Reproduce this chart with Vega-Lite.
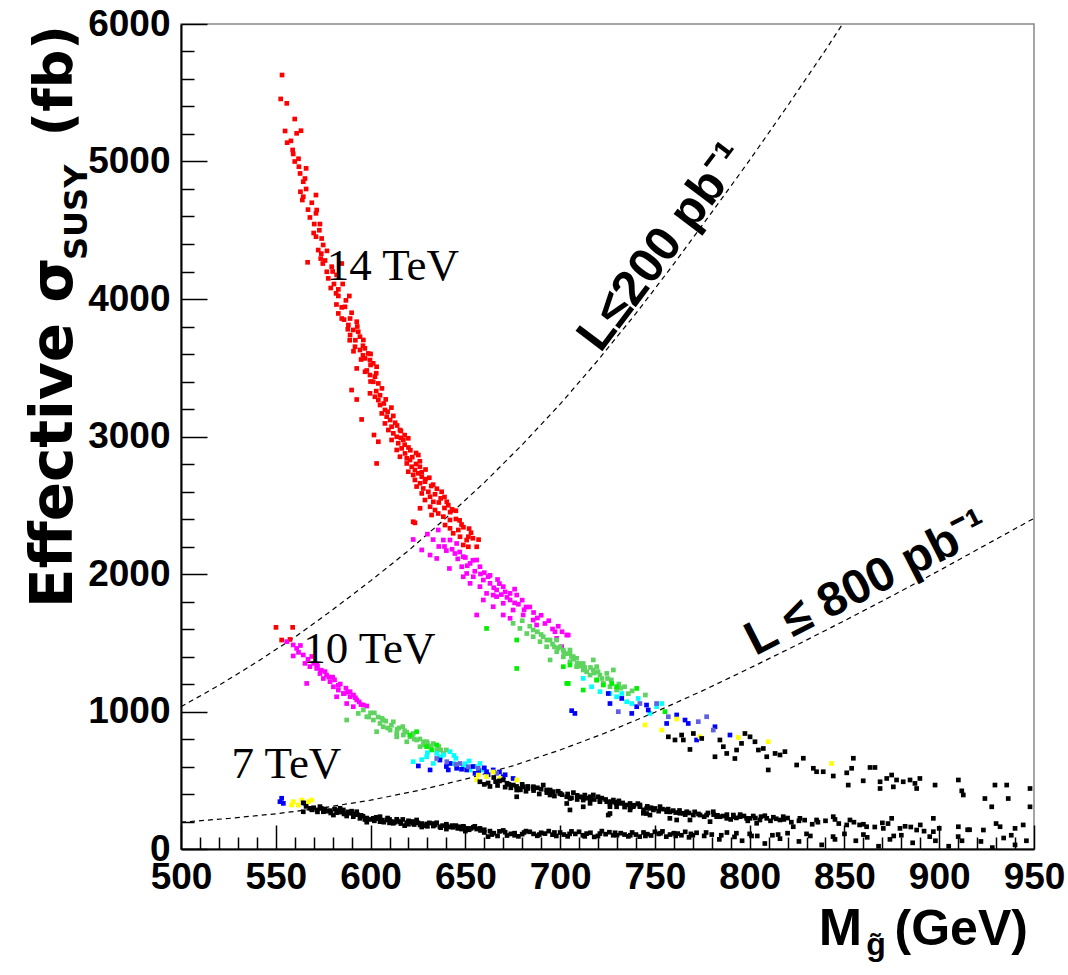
{
"$schema": "https://vega.github.io/schema/vega-lite/v6.json",
"width": 853, "height": 825,
"autosize": {"type": "none"},
"padding": {"left": 181, "top": 24, "right": 34, "bottom": 126},
"background": "white",
"config": {"view": {"stroke": "#888888", "strokeWidth": 1.5}},
"resolve": {"axis": {"x": "independent", "y": "independent"}},
"datasets": {
"curves": [
{"L":"200","x":500,"y":1035},{"L":"200","x":520,"y":1190},{"L":"200","x":540,"y":1360},{"L":"200","x":560,"y":1540},{"L":"200","x":580,"y":1740},{"L":"200","x":600,"y":1950},{"L":"200","x":620,"y":2170},{"L":"200","x":640,"y":2410},{"L":"200","x":660,"y":2665},{"L":"200","x":680,"y":2940},{"L":"200","x":700,"y":3235},{"L":"200","x":720,"y":3555},{"L":"200","x":740,"y":3895},{"L":"200","x":760,"y":4255},{"L":"200","x":780,"y":4630},{"L":"200","x":800,"y":5010},{"L":"200","x":820,"y":5405},{"L":"200","x":840,"y":5810},{"L":"200","x":849,"y":6000},
{"L":"800","x":500,"y":195},{"L":"800","x":525,"y":222},{"L":"800","x":550,"y":256},{"L":"800","x":575,"y":300},{"L":"800","x":600,"y":355},{"L":"800","x":625,"y":425},{"L":"800","x":650,"y":508},{"L":"800","x":675,"y":605},{"L":"800","x":700,"y":720},{"L":"800","x":725,"y":850},{"L":"800","x":750,"y":995},{"L":"800","x":775,"y":1150},{"L":"800","x":800,"y":1315},{"L":"800","x":825,"y":1485},{"L":"800","x":850,"y":1660},{"L":"800","x":875,"y":1840},{"L":"800","x":900,"y":2025},{"L":"800","x":925,"y":2215},{"L":"800","x":950,"y":2405}
],
"pts": [
{"x":553.3,"y":5629,"g":"r"},{"x":552.6,"y":5455,"g":"r"},{"x":555.8,"y":5423,"g":"r"},{"x":560,"y":5309,"g":"r"},{"x":554.9,"y":5222,"g":"r"},{"x":561,"y":5205,"g":"r"},{"x":563.3,"y":5224,"g":"r"},{"x":556,"y":5137,"g":"r"},{"x":558.9,"y":5084,"g":"r"},{"x":559.2,"y":5055,"g":"r"},{"x":562.2,"y":4962,"g":"r"},{"x":562.8,"y":4913,"g":"r"},{"x":565.4,"y":4876,"g":"r"},{"x":564.5,"y":4853,"g":"r"},{"x":571.2,"y":4756,"g":"r"},{"x":564.5,"y":4744,"g":"r"},{"x":564,"y":4720,"g":"r"},{"x":571.6,"y":4647,"g":"r"},{"x":571.2,"y":4623,"g":"r"},{"x":568,"y":4593,"g":"r"},{"x":570.3,"y":4545,"g":"r"},{"x":573.3,"y":4545,"g":"r"},{"x":571.2,"y":4453,"g":"r"},{"x":574.2,"y":4440,"g":"r"},{"x":572.4,"y":4356,"g":"r"},{"x":575,"y":4393,"g":"r"},{"x":566.8,"y":4267,"g":"r"},{"x":573.7,"y":4294,"g":"r"},{"x":574.8,"y":4258,"g":"r"},{"x":576.9,"y":4198,"g":"r"},{"x":579.5,"y":4235,"g":"r"},{"x":584.8,"y":4258,"g":"r"},{"x":577.7,"y":4150,"g":"r"},{"x":582.1,"y":4175,"g":"r"},{"x":580.7,"y":4109,"g":"r"},{"x":585.3,"y":4109,"g":"r"},{"x":581.8,"y":4041,"g":"r"},{"x":583,"y":4022,"g":"r"},{"x":588.8,"y":4022,"g":"r"},{"x":584.8,"y":3939,"g":"r"},{"x":586.5,"y":3943,"g":"r"},{"x":583,"y":3895,"g":"r"},{"x":584.8,"y":3858,"g":"r"},{"x":589.2,"y":3858,"g":"r"},{"x":592.7,"y":3835,"g":"r"},{"x":588.3,"y":3811,"g":"r"},{"x":590.9,"y":3775,"g":"r"},{"x":593.5,"y":3762,"g":"r"},{"x":589.2,"y":3738,"g":"r"},{"x":594.4,"y":3726,"g":"r"},{"x":596.2,"y":3702,"g":"r"},{"x":591.8,"y":3653,"g":"r"},{"x":594.4,"y":3629,"g":"r"},{"x":597,"y":3641,"g":"r"},{"x":598.8,"y":3604,"g":"r"},{"x":597.1,"y":3568,"g":"r"},{"x":599.7,"y":3556,"g":"r"},{"x":601.4,"y":3532,"g":"r"},{"x":603.2,"y":3507,"g":"r"},{"x":592.7,"y":3495,"g":"r"},{"x":597.1,"y":3471,"g":"r"},{"x":599.7,"y":3447,"g":"r"},{"x":602.3,"y":3435,"g":"r"},{"x":601.4,"y":3398,"g":"r"},{"x":604.1,"y":3386,"g":"r"},{"x":590,"y":3338,"g":"r"},{"x":592.7,"y":3269,"g":"r"},{"x":595.3,"y":3124,"g":"r"},{"x":599.7,"y":3314,"g":"r"},{"x":602.3,"y":3289,"g":"r"},{"x":604.1,"y":3265,"g":"r"},{"x":605,"y":3229,"g":"r"},{"x":607.6,"y":3193,"g":"r"},{"x":605.9,"y":3168,"g":"r"},{"x":608.5,"y":3144,"g":"r"},{"x":610.3,"y":3120,"g":"r"},{"x":607.6,"y":3095,"g":"r"},{"x":611.1,"y":3071,"g":"r"},{"x":609.4,"y":3047,"g":"r"},{"x":601.8,"y":3011,"g":"r"},{"x":604.1,"y":2962,"g":"r"},{"x":603.2,"y":2804,"g":"r"},{"x":612,"y":3023,"g":"r"},{"x":613.8,"y":2998,"g":"r"},{"x":615.5,"y":3047,"g":"r"},{"x":611.1,"y":2975,"g":"r"},{"x":614.6,"y":2951,"g":"r"},{"x":617.3,"y":2975,"g":"r"},{"x":619.9,"y":2987,"g":"r"},{"x":613.8,"y":2902,"g":"r"},{"x":616.4,"y":2914,"g":"r"},{"x":618.2,"y":2877,"g":"r"},{"x":615.5,"y":2853,"g":"r"},{"x":619.1,"y":2841,"g":"r"},{"x":620.8,"y":2829,"g":"r"},{"x":625.2,"y":2865,"g":"r"},{"x":619.1,"y":2804,"g":"r"},{"x":621.7,"y":2780,"g":"r"},{"x":623.4,"y":2756,"g":"r"},{"x":619.9,"y":2744,"g":"r"},{"x":622.5,"y":2720,"g":"r"},{"x":625.2,"y":2732,"g":"r"},{"x":627,"y":2707,"g":"r"},{"x":623.4,"y":2684,"g":"r"},{"x":626.1,"y":2660,"g":"r"},{"x":628.7,"y":2671,"g":"r"},{"x":624.3,"y":2636,"g":"r"},{"x":627.8,"y":2622,"g":"r"},{"x":630.5,"y":2598,"g":"r"},{"x":627,"y":2586,"g":"r"},{"x":631.4,"y":2562,"g":"r"},{"x":628.7,"y":2538,"g":"r"},{"x":633.1,"y":2525,"g":"r"},{"x":637.5,"y":2598,"g":"r"},{"x":640.2,"y":2525,"g":"r"},{"x":631.4,"y":2489,"g":"r"},{"x":634,"y":2465,"g":"r"},{"x":635.7,"y":2440,"g":"r"},{"x":626.1,"y":2478,"g":"r"},{"x":632.2,"y":2429,"g":"r"},{"x":638.4,"y":2417,"g":"r"},{"x":641.9,"y":2393,"g":"r"},{"x":639.3,"y":2356,"g":"r"},{"x":641.9,"y":2332,"g":"r"},{"x":646.3,"y":2320,"g":"r"},{"x":643.6,"y":2296,"g":"r"},{"x":647.2,"y":2271,"g":"r"},{"x":651.6,"y":2271,"g":"r"},{"x":648.9,"y":2211,"g":"r"},{"x":651.6,"y":2198,"g":"r"},{"x":656,"y":2198,"g":"r"},{"x":650.7,"y":2247,"g":"r"},{"x":622.5,"y":2380,"g":"r"},{"x":623.4,"y":2372,"g":"r"},
{"x":558,"y":5150,"g":"r"},{"x":562,"y":5020,"g":"r"},{"x":566,"y":4800,"g":"r"},{"x":569,"y":4700,"g":"r"},{"x":573,"y":4500,"g":"r"},{"x":577,"y":4350,"g":"r"},{"x":580,"y":4200,"g":"r"},{"x":583,"y":4070,"g":"r"},{"x":587,"y":3990,"g":"r"},{"x":590,"y":3900,"g":"r"},{"x":593,"y":3800,"g":"r"},{"x":596,"y":3660,"g":"r"},{"x":600,"y":3600,"g":"r"},{"x":603,"y":3460,"g":"r"},{"x":606,"y":3350,"g":"r"},{"x":608,"y":3270,"g":"r"},{"x":611,"y":3210,"g":"r"},{"x":613,"y":3100,"g":"r"},{"x":616,"y":3040,"g":"r"},{"x":618,"y":2940,"g":"r"},{"x":621,"y":2900,"g":"r"},{"x":624,"y":2800,"g":"r"},{"x":626,"y":2780,"g":"r"},{"x":629,"y":2690,"g":"r"},{"x":632,"y":2640,"g":"r"},{"x":634,"y":2580,"g":"r"},{"x":636,"y":2520,"g":"r"},{"x":639,"y":2480,"g":"r"},{"x":642,"y":2450,"g":"r"},{"x":645,"y":2400,"g":"r"},{"x":648,"y":2360,"g":"r"},{"x":653,"y":2300,"g":"r"},
{"x":589,"y":3700,"g":"r"},{"x":591,"y":3620,"g":"r"},{"x":595,"y":3560,"g":"r"},{"x":598,"y":3480,"g":"r"},{"x":600,"y":3400,"g":"r"},{"x":603,"y":3330,"g":"r"},{"x":605,"y":3300,"g":"r"},{"x":607,"y":3240,"g":"r"},{"x":609,"y":3180,"g":"r"},{"x":612,"y":3150,"g":"r"},{"x":614,"y":3080,"g":"r"},{"x":616,"y":2990,"g":"r"},{"x":618,"y":3010,"g":"r"},{"x":620,"y":2920,"g":"r"},{"x":622,"y":2850,"g":"r"},{"x":624,"y":2880,"g":"r"},{"x":626,"y":2820,"g":"r"},{"x":627,"y":2740,"g":"r"},{"x":629,"y":2760,"g":"r"},{"x":631,"y":2700,"g":"r"},{"x":633,"y":2650,"g":"r"},{"x":635,"y":2620,"g":"r"},{"x":637,"y":2550,"g":"r"},{"x":639,"y":2560,"g":"r"},{"x":641,"y":2500,"g":"r"},{"x":643,"y":2470,"g":"r"},{"x":645,"y":2460,"g":"r"},{"x":647,"y":2390,"g":"r"},{"x":649,"y":2340,"g":"r"},{"x":652,"y":2330,"g":"r"},{"x":654,"y":2260,"g":"r"},{"x":657,"y":2250,"g":"r"},{"x":600,"y":3520,"g":"r"},{"x":596,"y":3590,"g":"r"},{"x":592,"y":3700,"g":"r"},{"x":588,"y":3780,"g":"r"},{"x":586,"y":3850,"g":"r"},{"x":582,"y":3960,"g":"r"},{"x":579,"y":4080,"g":"r"},{"x":576,"y":4280,"g":"r"},{"x":574,"y":4330,"g":"r"},{"x":570,"y":4480,"g":"r"},{"x":567,"y":4650,"g":"r"},{"x":563,"y":4780,"g":"r"},{"x":566,"y":4950,"g":"r"},{"x":560,"y":5000,"g":"r"},
{"x":550.1,"y":1612,"g":"r"},{"x":558.9,"y":1612,"g":"r"},{"x":553.1,"y":1520,"g":"r"},{"x":557.5,"y":1524,"g":"r"},
{"x":622.5,"y":2251,"g":"m"},{"x":627,"y":2175,"g":"m"},{"x":631.4,"y":2138,"g":"m"},{"x":634.9,"y":2113,"g":"m"},{"x":641.6,"y":2040,"g":"m"},{"x":635.7,"y":2320,"g":"m"},{"x":638.4,"y":2247,"g":"m"},{"x":641.9,"y":2247,"g":"m"},{"x":645.4,"y":2222,"g":"m"},{"x":644.5,"y":2149,"g":"m"},{"x":648.9,"y":2126,"g":"m"},{"x":648.1,"y":2053,"g":"m"},{"x":652.5,"y":2077,"g":"m"},{"x":656,"y":2102,"g":"m"},{"x":657.7,"y":2053,"g":"m"},{"x":650.7,"y":2004,"g":"m"},{"x":654.2,"y":1980,"g":"m"},{"x":659.5,"y":1956,"g":"m"},{"x":657.7,"y":1908,"g":"m"},{"x":663,"y":1932,"g":"m"},{"x":666.5,"y":1884,"g":"m"},{"x":670,"y":1908,"g":"m"},{"x":673.6,"y":1859,"g":"m"},{"x":677.1,"y":1847,"g":"m"},{"x":661.2,"y":1859,"g":"m"},{"x":664.7,"y":1847,"g":"m"},{"x":648.9,"y":1980,"g":"m"},{"x":652.5,"y":1932,"g":"m"},{"x":666.5,"y":1835,"g":"m"},{"x":659.5,"y":1811,"g":"m"},{"x":670,"y":1787,"g":"m"},{"x":673.6,"y":1811,"g":"m"},{"x":664.7,"y":1762,"g":"m"},{"x":670,"y":1702,"g":"m"},{"x":675.2,"y":1738,"g":"m"},{"x":680.5,"y":1702,"g":"m"},{"x":685.8,"y":1665,"g":"m"},{"x":687.6,"y":1629,"g":"m"},{"x":697.3,"y":1580,"g":"m"},{"x":703.5,"y":1556,"g":"m"},{"x":673.6,"y":1678,"g":"m"},{"x":656,"y":1702,"g":"m"},{"x":704.3,"y":1556,"g":"m"},{"x":698.2,"y":1532,"g":"m"},{"x":700.8,"y":1471,"g":"m"},{"x":630,"y":2290,"g":"m"},{"x":643,"y":2180,"g":"m"},{"x":660,"y":2010,"g":"m"},{"x":667,"y":1960,"g":"m"},{"x":676,"y":1790,"g":"m"},{"x":682,"y":1760,"g":"m"},
{"x":636,"y":2200,"g":"m"},{"x":640,"y":2170,"g":"m"},{"x":646,"y":2110,"g":"m"},{"x":651,"y":2060,"g":"m"},{"x":655,"y":2020,"g":"m"},{"x":662,"y":1980,"g":"m"},{"x":668,"y":1930,"g":"m"},{"x":671,"y":1870,"g":"m"},{"x":676,"y":1890,"g":"m"},{"x":680,"y":1810,"g":"m"},{"x":684,"y":1760,"g":"m"},{"x":690,"y":1700,"g":"m"},{"x":694,"y":1660,"g":"m"},{"x":699,"y":1620,"g":"m"},{"x":686,"y":1720,"g":"m"},
{"x":633,"y":2250,"g":"m"},{"x":639,"y":2200,"g":"m"},{"x":647,"y":2160,"g":"m"},{"x":650,"y":2120,"g":"m"},{"x":654,"y":2100,"g":"m"},{"x":658,"y":2000,"g":"m"},{"x":663,"y":1990,"g":"m"},{"x":665,"y":1900,"g":"m"},{"x":669,"y":1850,"g":"m"},{"x":672,"y":1830,"g":"m"},{"x":678,"y":1780,"g":"m"},{"x":681,"y":1740,"g":"m"},{"x":688,"y":1680,"g":"m"},{"x":692,"y":1640,"g":"m"},{"x":696,"y":1600,"g":"m"},{"x":701,"y":1580,"g":"m"},
{"x":675.2,"y":1641,"g":"g"},{"x":678.8,"y":1604,"g":"g"},{"x":682.4,"y":1567,"g":"g"},{"x":685.8,"y":1544,"g":"g"},{"x":689.4,"y":1508,"g":"g"},{"x":692.9,"y":1471,"g":"g"},{"x":694.7,"y":1375,"g":"g"},{"x":698.2,"y":1435,"g":"g"},{"x":701.7,"y":1398,"g":"g"},{"x":705.2,"y":1362,"g":"g"},{"x":708.7,"y":1326,"g":"g"},{"x":712.2,"y":1302,"g":"g"},{"x":715.8,"y":1265,"g":"g"},{"x":719.3,"y":1229,"g":"g"},{"x":722.8,"y":1204,"g":"g"},{"x":685.8,"y":1593,"g":"g"},{"x":694.7,"y":1520,"g":"g"},{"x":700,"y":1471,"g":"g"},{"x":707,"y":1398,"g":"g"},{"x":710.5,"y":1349,"g":"g"},{"x":717.5,"y":1302,"g":"g"},{"x":721,"y":1265,"g":"g"},{"x":726.3,"y":1180,"g":"g"},{"x":729.8,"y":1156,"g":"g"},{"x":691.1,"y":1544,"g":"g"},{"x":705.2,"y":1447,"g":"g"},{"x":698.2,"y":1520,"g":"g"},{"x":701.7,"y":1447,"g":"g"},{"x":705.2,"y":1422,"g":"g"},{"x":708.7,"y":1387,"g":"g"},{"x":712.2,"y":1349,"g":"g"},{"x":714,"y":1289,"g":"g"},{"x":717.5,"y":1375,"g":"g"},{"x":719.3,"y":1326,"g":"g"},{"x":724.6,"y":1277,"g":"g"},{"x":728.1,"y":1302,"g":"g"},
{"x":680,"y":1660,"g":"g"},{"x":684,"y":1620,"g":"g"},{"x":688,"y":1580,"g":"g"},{"x":696,"y":1490,"g":"g"},{"x":699,"y":1460,"g":"g"},{"x":703,"y":1420,"g":"g"},{"x":707,"y":1380,"g":"g"},{"x":711,"y":1330,"g":"g"},{"x":716,"y":1320,"g":"g"},{"x":720,"y":1290,"g":"g"},{"x":725,"y":1240,"g":"g"},{"x":731,"y":1200,"g":"g"},{"x":734,"y":1180,"g":"g"},{"x":738,"y":1150,"g":"g"},{"x":745,"y":1120,"g":"g"},
{"x":690,"y":1560,"g":"g"},{"x":693,"y":1520,"g":"g"},{"x":697,"y":1470,"g":"g"},{"x":702,"y":1430,"g":"g"},{"x":706,"y":1400,"g":"g"},{"x":709,"y":1350,"g":"g"},{"x":713,"y":1320,"g":"g"},{"x":718,"y":1280,"g":"g"},{"x":722,"y":1240,"g":"g"},{"x":727,"y":1230,"g":"g"},{"x":732,"y":1170,"g":"g"},{"x":736,"y":1130,"g":"g"},
{"x":677.1,"y":1520,"g":"G"},{"x":677.1,"y":1313,"g":"G"},{"x":703.5,"y":1204,"g":"G"},{"x":701.7,"y":1326,"g":"G"},{"x":705.2,"y":1338,"g":"G"},{"x":704.3,"y":1204,"g":"G"},{"x":712.2,"y":1156,"g":"G"},{"x":719.3,"y":1229,"g":"G"},{"x":722.8,"y":1193,"g":"G"},{"x":727.2,"y":1204,"g":"G"},{"x":729.8,"y":1180,"g":"G"},{"x":740.4,"y":1168,"g":"G"},{"x":755.3,"y":999,"g":"G"},{"x":661.2,"y":1604,"g":"G"},
{"x":712.2,"y":1241,"g":"c"},{"x":716.6,"y":1180,"g":"c"},{"x":721,"y":1144,"g":"c"},{"x":726.3,"y":1131,"g":"c"},{"x":729.8,"y":1107,"g":"c"},{"x":732.5,"y":1131,"g":"c"},{"x":735.1,"y":1071,"g":"c"},{"x":737.8,"y":1058,"g":"c"},{"x":741.2,"y":1095,"g":"c"},{"x":747.4,"y":986,"g":"c"},{"x":753.6,"y":1058,"g":"c"},{"x":750.9,"y":1035,"g":"c"},
{"x":706.1,"y":1006,"g":"b"},{"x":707.8,"y":986,"g":"b"},{"x":725.4,"y":1131,"g":"b"},{"x":726.3,"y":1058,"g":"b"},{"x":732.5,"y":1095,"g":"b"},{"x":737.8,"y":986,"g":"b"},{"x":740.4,"y":1035,"g":"b"},{"x":745.6,"y":1047,"g":"b"},{"x":746.5,"y":1011,"g":"b"},{"x":756.2,"y":913,"g":"b"},{"x":761.5,"y":975,"g":"b"},{"x":765.9,"y":938,"g":"b"},{"x":767.6,"y":913,"g":"b"},{"x":772,"y":793,"g":"b"},{"x":781.7,"y":889,"g":"b"},{"x":789.6,"y":829,"g":"b"},
{"x":730.7,"y":999,"g":"s"},{"x":742.1,"y":1058,"g":"s"},{"x":750.9,"y":1058,"g":"s"},{"x":757.1,"y":962,"g":"s"},{"x":772.9,"y":926,"g":"s"},{"x":777.3,"y":962,"g":"s"},{"x":780.8,"y":865,"g":"s"},
{"x":744.8,"y":902,"g":"y"},{"x":753.6,"y":865,"g":"y"},{"x":761.5,"y":945,"g":"y"},{"x":773.8,"y":816,"g":"y"},{"x":794,"y":811,"g":"y"},{"x":809.8,"y":780,"g":"y"},{"x":843.2,"y":622,"g":"y"},
{"x":757.1,"y":816,"g":"k"},{"x":760.6,"y":793,"g":"k"},{"x":764.1,"y":829,"g":"k"},{"x":765,"y":793,"g":"k"},{"x":768.5,"y":724,"g":"k"},{"x":770.3,"y":840,"g":"k"},{"x":774.7,"y":804,"g":"k"},{"x":781.7,"y":671,"g":"k"},{"x":784.3,"y":793,"g":"k"},{"x":786.1,"y":744,"g":"k"},{"x":787.9,"y":695,"g":"k"},{"x":792.2,"y":658,"g":"k"},{"x":793.1,"y":720,"g":"k"},{"x":795.7,"y":768,"g":"k"},{"x":797.5,"y":840,"g":"k"},{"x":800.2,"y":816,"g":"k"},{"x":802.8,"y":780,"g":"k"},{"x":804.6,"y":720,"g":"k"},{"x":807.2,"y":731,"g":"k"},{"x":809,"y":671,"g":"k"},{"x":809.8,"y":575,"g":"k"},{"x":813.4,"y":695,"g":"k"},{"x":816,"y":684,"g":"k"},{"x":818.6,"y":708,"g":"k"},{"x":824.8,"y":611,"g":"k"},{"x":828.3,"y":660,"g":"k"},{"x":833.6,"y":587,"g":"k"},{"x":835.3,"y":562,"g":"k"},{"x":838.8,"y":562,"g":"k"},{"x":844.1,"y":531,"g":"k"},{"x":851.2,"y":554,"g":"k"},{"x":852,"y":465,"g":"k"},{"x":854.7,"y":660,"g":"k"},{"x":853.8,"y":587,"g":"k"},{"x":859.9,"y":496,"g":"k"},{"x":863.5,"y":593,"g":"k"},{"x":866.1,"y":593,"g":"k"},{"x":868.8,"y":489,"g":"k"},{"x":868.8,"y":440,"g":"k"},{"x":872.3,"y":513,"g":"k"},{"x":875.8,"y":452,"g":"k"},{"x":874.9,"y":538,"g":"k"},{"x":877.5,"y":502,"g":"k"},{"x":881,"y":489,"g":"k"},{"x":884.6,"y":502,"g":"k"},{"x":887.2,"y":477,"g":"k"},{"x":889.8,"y":513,"g":"k"},{"x":888.1,"y":440,"g":"k"},{"x":897.8,"y":465,"g":"k"},{"x":910.1,"y":502,"g":"k"},{"x":912.7,"y":393,"g":"k"},{"x":911.9,"y":423,"g":"k"},{"x":924.1,"y":367,"g":"k"},{"x":927.7,"y":307,"g":"k"},{"x":929.4,"y":465,"g":"k"},{"x":935.6,"y":465,"g":"k"},{"x":936.4,"y":367,"g":"k"},{"x":947.9,"y":440,"g":"k"},{"x":947.9,"y":307,"g":"k"},
{"x":555.8,"y":1508,"g":"m"},{"x":559.2,"y":1484,"g":"m"},{"x":561,"y":1459,"g":"m"},{"x":559.2,"y":1404,"g":"m"},{"x":564.5,"y":1411,"g":"m"},{"x":565.4,"y":1350,"g":"m"},{"x":568,"y":1326,"g":"m"},{"x":571.6,"y":1313,"g":"m"},{"x":566.3,"y":1204,"g":"m"},{"x":573.3,"y":1276,"g":"m"},{"x":575.1,"y":1240,"g":"m"},{"x":578.6,"y":1217,"g":"m"},{"x":580.4,"y":1180,"g":"m"},{"x":583,"y":1156,"g":"m"},{"x":585.7,"y":1131,"g":"m"},{"x":589.2,"y":1107,"g":"m"},{"x":582.1,"y":1107,"g":"m"},{"x":587.4,"y":1058,"g":"m"},{"x":592.7,"y":1084,"g":"m"},{"x":590.9,"y":1035,"g":"m"},{"x":596.2,"y":1047,"g":"m"},{"x":589.2,"y":1144,"g":"m"},{"x":571.6,"y":1338,"g":"m"},{"x":576.8,"y":1265,"g":"m"},
{"x":562,"y":1430,"g":"m"},{"x":567,"y":1380,"g":"m"},{"x":570,"y":1350,"g":"m"},{"x":574,"y":1300,"g":"m"},{"x":578,"y":1250,"g":"m"},{"x":581,"y":1230,"g":"m"},{"x":584,"y":1200,"g":"m"},{"x":587,"y":1170,"g":"m"},{"x":591,"y":1120,"g":"m"},{"x":594,"y":1070,"g":"m"},{"x":598,"y":1040,"g":"m"},{"x":586,"y":1130,"g":"m"},
{"x":563,"y":1480,"g":"m"},{"x":569,"y":1400,"g":"m"},{"x":572,"y":1330,"g":"m"},{"x":576,"y":1290,"g":"m"},{"x":580,"y":1250,"g":"m"},{"x":583,"y":1190,"g":"m"},{"x":588,"y":1140,"g":"m"},{"x":592,"y":1100,"g":"m"},{"x":595,"y":1050,"g":"m"},
{"x":587.4,"y":938,"g":"g"},{"x":593.5,"y":986,"g":"g"},{"x":596.2,"y":1011,"g":"g"},{"x":598,"y":962,"g":"g"},{"x":601.5,"y":938,"g":"g"},{"x":605,"y":913,"g":"g"},{"x":606.7,"y":889,"g":"g"},{"x":603.2,"y":853,"g":"g"},{"x":610.3,"y":865,"g":"g"},{"x":613.8,"y":840,"g":"g"},{"x":617.3,"y":829,"g":"g"},{"x":620.8,"y":816,"g":"g"},{"x":624.3,"y":793,"g":"g"},{"x":627.8,"y":756,"g":"g"},{"x":631.4,"y":744,"g":"g"},{"x":634.9,"y":720,"g":"g"},{"x":619.1,"y":780,"g":"g"},{"x":613.8,"y":816,"g":"g"},{"x":606.7,"y":938,"g":"g"},{"x":629.6,"y":780,"g":"g"},{"x":633.1,"y":767,"g":"g"},{"x":638.4,"y":695,"g":"g"},{"x":626.1,"y":744,"g":"g"},{"x":622.5,"y":840,"g":"g"},
{"x":600,"y":990,"g":"g"},{"x":604,"y":960,"g":"g"},{"x":608,"y":930,"g":"g"},{"x":611,"y":900,"g":"g"},{"x":615,"y":880,"g":"g"},{"x":618,"y":860,"g":"g"},{"x":622,"y":820,"g":"g"},{"x":626,"y":800,"g":"g"},{"x":630,"y":770,"g":"g"},{"x":636,"y":745,"g":"g"},{"x":640,"y":720,"g":"g"},{"x":612,"y":925,"g":"g"},{"x":617,"y":890,"g":"g"},
{"x":599,"y":960,"g":"g"},{"x":602,"y":990,"g":"g"},{"x":606,"y":950,"g":"g"},{"x":609,"y":880,"g":"g"},{"x":614,"y":870,"g":"g"},{"x":619,"y":850,"g":"g"},{"x":623,"y":800,"g":"g"},{"x":628,"y":780,"g":"g"},{"x":632,"y":750,"g":"g"},{"x":637,"y":720,"g":"g"},
{"x":620.8,"y":829,"g":"G"},{"x":624.3,"y":853,"g":"G"},{"x":629.6,"y":744,"g":"G"},{"x":632.2,"y":720,"g":"G"},{"x":634.9,"y":756,"g":"G"},
{"x":622.5,"y":635,"g":"c"},{"x":629.6,"y":671,"g":"c"},{"x":634.9,"y":695,"g":"c"},{"x":638.4,"y":684,"g":"c"},{"x":641.9,"y":708,"g":"c"},{"x":643.7,"y":622,"g":"c"},{"x":648.9,"y":598,"g":"c"},{"x":652.5,"y":575,"g":"c"},{"x":657.7,"y":622,"g":"c"},{"x":659.5,"y":575,"g":"c"},{"x":633.1,"y":622,"g":"c"},{"x":627,"y":650,"g":"c"},{"x":645,"y":660,"g":"c"},{"x":652,"y":640,"g":"c"},{"x":630,"y":700,"g":"c"},{"x":637,"y":670,"g":"c"},{"x":644,"y":680,"g":"c"},{"x":650,"y":620,"g":"c"},{"x":655,"y":600,"g":"c"},
{"x":625.2,"y":604,"g":"b"},{"x":631.4,"y":575,"g":"b"},{"x":636.6,"y":647,"g":"b"},{"x":641.9,"y":622,"g":"b"},{"x":645.4,"y":587,"g":"b"},{"x":650.7,"y":575,"g":"b"},{"x":655.1,"y":550,"g":"b"},{"x":661.2,"y":562,"g":"b"},{"x":664.7,"y":575,"g":"b"},{"x":670,"y":526,"g":"b"},{"x":675.2,"y":513,"g":"b"},{"x":641,"y":575,"g":"b"},{"x":654,"y":600,"g":"b"},{"x":660,"y":590,"g":"b"},{"x":668,"y":560,"g":"b"},{"x":640,"y":600,"g":"b"},{"x":648,"y":580,"g":"b"},{"x":657,"y":570,"g":"b"},{"x":662,"y":540,"g":"b"},{"x":671,"y":540,"g":"b"},
{"x":634.9,"y":658,"g":"s"},{"x":640.2,"y":635,"g":"s"},{"x":647.2,"y":622,"g":"s"},{"x":651.6,"y":598,"g":"s"},{"x":656.8,"y":587,"g":"s"},{"x":666.5,"y":550,"g":"s"},{"x":645,"y":615,"g":"s"},
{"x":656,"y":502,"g":"y"},{"x":661.2,"y":526,"g":"y"},{"x":664.7,"y":560,"g":"y"},{"x":668.3,"y":513,"g":"y"},{"x":677.1,"y":502,"g":"y"},{"x":656.8,"y":538,"g":"y"},
{"x":657.7,"y":489,"g":"k"},{"x":665,"y":520,"g":"k"},{"x":668,"y":495,"g":"k"},{"x":670,"y":502,"g":"k"},{"x":672,"y":478,"g":"k"},{"x":675.3,"y":465,"g":"k"},{"x":678.8,"y":440,"g":"k"},{"x":680,"y":470,"g":"k"},{"x":683,"y":455,"g":"k"},{"x":685.9,"y":453,"g":"k"},{"x":688,"y":445,"g":"k"},{"x":691.1,"y":465,"g":"k"},{"x":677.1,"y":380,"g":"k"},{"x":694.7,"y":429,"g":"k"},{"x":700,"y":404,"g":"k"},{"x":705.2,"y":367,"g":"k"},{"x":710.5,"y":380,"g":"k"},{"x":715.8,"y":380,"g":"k"},{"x":703.5,"y":331,"g":"k"},{"x":712.2,"y":307,"g":"k"},{"x":721,"y":344,"g":"k"},{"x":726.3,"y":331,"g":"k"},{"x":729.8,"y":307,"g":"k"},{"x":736.9,"y":331,"g":"k"},{"x":742.1,"y":320,"g":"k"},{"x":726.3,"y":258,"g":"k"},{"x":745.6,"y":258,"g":"k"},
{"x":694.7,"y":393,"g":"k"},{"x":703.5,"y":380,"g":"k"},{"x":712.2,"y":356,"g":"k"},{"x":729.8,"y":332,"g":"k"},{"x":738.6,"y":308,"g":"k"},{"x":747.4,"y":296,"g":"k"},{"x":756.2,"y":284,"g":"k"},{"x":765,"y":260,"g":"k"},{"x":773.8,"y":247,"g":"k"},{"x":782.6,"y":235,"g":"k"},{"x":791.4,"y":235,"g":"k"},{"x":800.2,"y":223,"g":"k"},{"x":809,"y":223,"g":"k"},{"x":817.7,"y":235,"g":"k"},{"x":826.5,"y":223,"g":"k"},{"x":835.3,"y":211,"g":"k"},{"x":844.1,"y":235,"g":"k"},{"x":852.9,"y":211,"g":"k"},{"x":861.7,"y":162,"g":"k"},{"x":870.5,"y":150,"g":"k"},{"x":879.3,"y":150,"g":"k"},{"x":888.1,"y":138,"g":"k"},{"x":896.9,"y":126,"g":"k"},{"x":910.1,"y":162,"g":"k"},{"x":923.3,"y":138,"g":"k"},{"x":932.1,"y":162,"g":"k"},{"x":944.3,"y":175,"g":"k"},{"x":705.2,"y":284,"g":"k"},{"x":725.4,"y":247,"g":"k"},{"x":743.9,"y":260,"g":"k"},{"x":761.5,"y":211,"g":"k"},{"x":779.1,"y":199,"g":"k"},{"x":803.7,"y":187,"g":"k"},{"x":823,"y":162,"g":"k"},{"x":851.2,"y":175,"g":"k"},{"x":874.9,"y":223,"g":"k"},{"x":896.9,"y":223,"g":"k"},
{"x":680.6,"y":453,"g":"k"},{"x":685.9,"y":441,"g":"k"},{"x":677.1,"y":429,"g":"k"},{"x":692.9,"y":429,"g":"k"},{"x":696.4,"y":417,"g":"k"},{"x":699.9,"y":405,"g":"k"},{"x":707,"y":410,"g":"k"},{"x":714,"y":369,"g":"k"},{"x":717.5,"y":393,"g":"k"},{"x":721,"y":356,"g":"k"},{"x":724.6,"y":344,"g":"k"},{"x":728.1,"y":356,"g":"k"},{"x":731.6,"y":332,"g":"k"},{"x":735.1,"y":320,"g":"k"},{"x":742.1,"y":308,"g":"k"},{"x":745.7,"y":296,"g":"k"},{"x":749.2,"y":284,"g":"k"},{"x":752.7,"y":308,"g":"k"},{"x":756.2,"y":271,"g":"k"},{"x":759.7,"y":279,"g":"k"},{"x":763.2,"y":260,"g":"k"},{"x":766.8,"y":271,"g":"k"},{"x":770.3,"y":247,"g":"k"},{"x":777.3,"y":247,"g":"k"},{"x":780.8,"y":271,"g":"k"},{"x":784.3,"y":235,"g":"k"},{"x":787.9,"y":223,"g":"k"},{"x":791.4,"y":247,"g":"k"},{"x":794.9,"y":235,"g":"k"},{"x":798.4,"y":223,"g":"k"},{"x":801.9,"y":240,"g":"k"},{"x":805.4,"y":211,"g":"k"},{"x":812.5,"y":231,"g":"k"},{"x":816,"y":211,"g":"k"},{"x":715.8,"y":332,"g":"k"},{"x":726.3,"y":308,"g":"k"},{"x":736.9,"y":284,"g":"k"},{"x":747.4,"y":247,"g":"k"},{"x":757.9,"y":223,"g":"k"},{"x":768.5,"y":211,"g":"k"},
{"x":660,"y":470,"g":"k"},{"x":663,"y":455,"g":"k"},{"x":667,"y":462,"g":"k"},{"x":671,"y":450,"g":"k"},{"x":674,"y":445,"g":"k"},{"x":679,"y":430,"g":"k"},{"x":682,"y":420,"g":"k"},{"x":686,"y":425,"g":"k"},{"x":689,"y":400,"g":"k"},{"x":693,"y":410,"g":"k"},{"x":697,"y":385,"g":"k"},{"x":701,"y":395,"g":"k"},{"x":706,"y":372,"g":"k"},{"x":709,"y":360,"g":"k"},{"x":713,"y":392,"g":"k"},{"x":718,"y":360,"g":"k"},{"x":722,"y":370,"g":"k"},{"x":727,"y":345,"g":"k"},{"x":731,"y":350,"g":"k"},{"x":734,"y":305,"g":"k"},{"x":739,"y":318,"g":"k"},{"x":744,"y":285,"g":"k"},{"x":748,"y":300,"g":"k"},{"x":752,"y":275,"g":"k"},{"x":757,"y":290,"g":"k"},{"x":761,"y":265,"g":"k"},{"x":766,"y":250,"g":"k"},{"x":771,"y":270,"g":"k"},{"x":776,"y":235,"g":"k"},{"x":781,"y":250,"g":"k"},{"x":786,"y":240,"g":"k"},{"x":790,"y":215,"g":"k"},{"x":795,"y":250,"g":"k"},{"x":799,"y":205,"g":"k"},{"x":806,"y":235,"g":"k"},{"x":811,"y":205,"g":"k"},{"x":818,"y":215,"g":"k"},{"x":822,"y":195,"g":"k"},{"x":829,"y":210,"g":"k"},{"x":833,"y":180,"g":"k"},{"x":840,"y":205,"g":"k"},{"x":847,"y":185,"g":"k"},{"x":855,"y":195,"g":"k"},{"x":860,"y":180,"g":"k"},{"x":866,"y":160,"g":"k"},{"x":873,"y":185,"g":"k"},{"x":882,"y":165,"g":"k"},{"x":890,"y":175,"g":"k"},{"x":900,"y":150,"g":"k"},{"x":915,"y":140,"g":"k"},{"x":930,"y":185,"g":"k"},{"x":940,"y":150,"g":"k"},
{"x":662,"y":480,"g":"k"},{"x":666,"y":490,"g":"k"},{"x":673,"y":470,"g":"k"},{"x":677,"y":455,"g":"k"},{"x":683,"y":440,"g":"k"},{"x":690,"y":435,"g":"k"},{"x":695,"y":415,"g":"k"},{"x":699,"y":420,"g":"k"},{"x":704,"y":400,"g":"k"},{"x":709,"y":390,"g":"k"},{"x":712,"y":375,"g":"k"},{"x":716,"y":365,"g":"k"},{"x":720,"y":380,"g":"k"},{"x":724,"y":360,"g":"k"},{"x":729,"y":340,"g":"k"},{"x":733,"y":335,"g":"k"},{"x":737,"y":300,"g":"k"},{"x":741,"y":330,"g":"k"},{"x":746,"y":310,"g":"k"},{"x":750,"y":295,"g":"k"},{"x":754,"y":290,"g":"k"},{"x":758,"y":270,"g":"k"},{"x":763,"y":280,"g":"k"},{"x":768,"y":262,"g":"k"},{"x":773,"y":255,"g":"k"},{"x":778,"y":262,"g":"k"},{"x":783,"y":245,"g":"k"},{"x":788,"y":250,"g":"k"},{"x":793,"y":226,"g":"k"},{"x":797,"y":240,"g":"k"},{"x":803,"y":225,"g":"k"},{"x":808,"y":242,"g":"k"},{"x":814,"y":220,"g":"k"},{"x":820,"y":225,"g":"k"},{"x":826,"y":205,"g":"k"},{"x":836,"y":195,"g":"k"},{"x":845,"y":215,"g":"k"},{"x":858,"y":175,"g":"k"},{"x":870,"y":190,"g":"k"},{"x":885,"y":160,"g":"k"},
{"x":553.1,"y":369,"g":"b"},{"x":552.2,"y":344,"g":"b"},{"x":554,"y":332,"g":"b"},{"x":565.4,"y":332,"g":"b"},
{"x":559.2,"y":344,"g":"y"},{"x":561.9,"y":320,"g":"y"},{"x":567.2,"y":344,"g":"y"},{"x":568.9,"y":356,"g":"y"},{"x":558.4,"y":320,"g":"y"},{"x":563.7,"y":356,"g":"y"},
{"x":564.5,"y":336,"g":"k"},{"x":568.1,"y":296,"g":"k"},{"x":571.6,"y":284,"g":"k"},{"x":575.1,"y":271,"g":"k"},{"x":578.6,"y":279,"g":"k"},{"x":582.1,"y":264,"g":"k"},{"x":585.6,"y":284,"g":"k"},{"x":589.2,"y":260,"g":"k"},{"x":590.9,"y":235,"g":"k"},{"x":594.4,"y":223,"g":"k"},{"x":598,"y":211,"g":"k"},{"x":601.4,"y":223,"g":"k"},{"x":605,"y":199,"g":"k"},{"x":608.5,"y":211,"g":"k"},{"x":612,"y":187,"g":"k"},{"x":615.5,"y":199,"g":"k"},{"x":619.1,"y":191,"g":"k"},{"x":622.5,"y":187,"g":"k"},{"x":626.1,"y":175,"g":"k"},{"x":629.6,"y":182,"g":"k"},{"x":633.1,"y":167,"g":"k"},{"x":636.6,"y":162,"g":"k"},{"x":640.2,"y":167,"g":"k"},{"x":643.6,"y":158,"g":"k"},{"x":647.2,"y":162,"g":"k"},{"x":650.7,"y":150,"g":"k"},{"x":654.2,"y":158,"g":"k"},{"x":657.7,"y":150,"g":"k"},{"x":580.4,"y":247,"g":"k"},{"x":587.4,"y":240,"g":"k"},{"x":592.7,"y":271,"g":"k"},{"x":605,"y":235,"g":"k"},{"x":613.8,"y":216,"g":"k"},{"x":624.3,"y":211,"g":"k"},{"x":634.9,"y":191,"g":"k"},{"x":564.5,"y":271,"g":"k"},{"x":573.3,"y":308,"g":"k"},{"x":583.9,"y":296,"g":"k"},
{"x":570,"y":300,"g":"k"},{"x":572,"y":270,"g":"k"},{"x":576,"y":290,"g":"k"},{"x":579,"y":262,"g":"k"},{"x":583,"y":280,"g":"k"},{"x":586,"y":255,"g":"k"},{"x":590,"y":275,"g":"k"},{"x":593,"y":250,"g":"k"},{"x":596,"y":238,"g":"k"},{"x":598,"y":225,"g":"k"},{"x":600,"y":215,"g":"k"},{"x":603,"y":230,"g":"k"},{"x":606,"y":210,"g":"k"},{"x":609,"y":225,"g":"k"},{"x":611,"y":200,"g":"k"},{"x":614,"y":205,"g":"k"},{"x":617,"y":215,"g":"k"},{"x":620,"y":180,"g":"k"},{"x":622,"y":200,"g":"k"},{"x":625,"y":190,"g":"k"},{"x":628,"y":170,"g":"k"},{"x":631,"y":190,"g":"k"},{"x":634,"y":175,"g":"k"},{"x":637,"y":155,"g":"k"},{"x":640,"y":180,"g":"k"},{"x":643,"y":170,"g":"k"},{"x":646,"y":150,"g":"k"},{"x":649,"y":165,"g":"k"},{"x":652,"y":140,"g":"k"},{"x":655,"y":165,"g":"k"},{"x":658,"y":135,"g":"k"},{"x":598,"y":195,"g":"k"},{"x":610,"y":190,"g":"k"},{"x":618,"y":170,"g":"k"},{"x":627,"y":160,"g":"k"},{"x":640,"y":145,"g":"k"},{"x":650,"y":130,"g":"k"},{"x":660,"y":140,"g":"k"},{"x":665,"y":115,"g":"k"},{"x":671,"y":122,"g":"k"},{"x":676,"y":100,"g":"k"},{"x":682,"y":130,"g":"k"},{"x":690,"y":118,"g":"k"},{"x":698,"y":95,"g":"k"},{"x":706,"y":128,"g":"k"},{"x":714,"y":112,"g":"k"},{"x":722,"y":130,"g":"k"},{"x":730,"y":100,"g":"k"},{"x":738,"y":120,"g":"k"},{"x":746,"y":108,"g":"k"},{"x":754,"y":128,"g":"k"},{"x":762,"y":112,"g":"k"},{"x":770,"y":100,"g":"k"},
{"x":566,"y":310,"g":"k"},{"x":569,"y":285,"g":"k"},{"x":574,"y":295,"g":"k"},{"x":577,"y":275,"g":"k"},{"x":581,"y":290,"g":"k"},{"x":584,"y":268,"g":"k"},{"x":588,"y":270,"g":"k"},{"x":591,"y":255,"g":"k"},{"x":595,"y":245,"g":"k"},{"x":597,"y":215,"g":"k"},{"x":602,"y":205,"g":"k"},{"x":604,"y":220,"g":"k"},{"x":607,"y":195,"g":"k"},{"x":610,"y":215,"g":"k"},{"x":613,"y":195,"g":"k"},{"x":616,"y":185,"g":"k"},{"x":620,"y":205,"g":"k"},{"x":623,"y":178,"g":"k"},{"x":627,"y":185,"g":"k"},{"x":630,"y":165,"g":"k"},{"x":633,"y":185,"g":"k"},{"x":638,"y":170,"g":"k"},{"x":642,"y":160,"g":"k"},{"x":645,"y":170,"g":"k"},{"x":648,"y":145,"g":"k"},{"x":653,"y":150,"g":"k"},{"x":656,"y":145,"g":"k"},
{"x":660,"y":120,"g":"k"},{"x":664,"y":105,"g":"k"},{"x":668,"y":128,"g":"k"},{"x":672,"y":98,"g":"k"},{"x":676,"y":115,"g":"k"},{"x":680,"y":108,"g":"k"},{"x":684,"y":125,"g":"k"},{"x":688,"y":96,"g":"k"},{"x":692,"y":112,"g":"k"},{"x":696,"y":104,"g":"k"},{"x":700,"y":120,"g":"k"},{"x":704,"y":92,"g":"k"},{"x":708,"y":110,"g":"k"},{"x":712,"y":100,"g":"k"},{"x":716,"y":118,"g":"k"},{"x":720,"y":95,"g":"k"},{"x":724,"y":108,"g":"k"},{"x":728,"y":100,"g":"k"},{"x":732,"y":115,"g":"k"},{"x":736,"y":92,"g":"k"},{"x":740,"y":105,"g":"k"},{"x":744,"y":120,"g":"k"},{"x":748,"y":98,"g":"k"},{"x":752,"y":110,"g":"k"},{"x":756,"y":90,"g":"k"},{"x":760,"y":115,"g":"k"},{"x":764,"y":100,"g":"k"},{"x":768,"y":85,"g":"k"},{"x":772,"y":118,"g":"k"},{"x":776,"y":95,"g":"k"},{"x":780,"y":105,"g":"k"},{"x":784,"y":70,"g":"k"},{"x":788,"y":120,"g":"k"},{"x":792,"y":88,"g":"k"},{"x":796,"y":60,"g":"k"},{"x":800,"y":110,"g":"k"},{"x":804,"y":95,"g":"k"},{"x":808,"y":40,"g":"k"},{"x":812,"y":100,"g":"k"},{"x":816,"y":75,"g":"k"},{"x":820,"y":115,"g":"k"},{"x":826,"y":55,"g":"k"},{"x":832,"y":95,"g":"k"},{"x":838,"y":30,"g":"k"},{"x":844,"y":90,"g":"k"},{"x":850,"y":110,"g":"k"},{"x":856,"y":60,"g":"k"},{"x":862,"y":85,"g":"k"},{"x":868,"y":20,"g":"k"},{"x":874,"y":70,"g":"k"},{"x":880,"y":100,"g":"k"},{"x":886,"y":45,"g":"k"},{"x":892,"y":130,"g":"k"},{"x":898,"y":60,"g":"k"},{"x":905,"y":20,"g":"k"},{"x":910,"y":90,"g":"k"},{"x":916,"y":140,"g":"k"},{"x":922,"y":55,"g":"k"},{"x":928,"y":10,"g":"k"},{"x":934,"y":80,"g":"k"},{"x":940,"y":30,"g":"k"},{"x":946,"y":60,"g":"k"},{"x":662,"y":90,"g":"k"},{"x":670,"y":135,"g":"k"},{"x":678,"y":92,"g":"k"},{"x":686,"y":110,"g":"k"},{"x":694,"y":130,"g":"k"},{"x":702,"y":105,"g":"k"},{"x":710,"y":125,"g":"k"},{"x":718,"y":88,"g":"k"},{"x":726,"y":122,"g":"k"},{"x":734,"y":105,"g":"k"},{"x":742,"y":90,"g":"k"},{"x":750,"y":125,"g":"k"},{"x":758,"y":105,"g":"k"},{"x":766,"y":125,"g":"k"},
{"x":663,"y":130,"g":"k"},{"x":667,"y":95,"g":"k"},{"x":674,"y":110,"g":"k"},{"x":681,"y":120,"g":"k"},{"x":689,"y":105,"g":"k"},{"x":697,"y":120,"g":"k"},{"x":705,"y":110,"g":"k"},{"x":713,"y":92,"g":"k"},{"x":721,"y":112,"g":"k"},{"x":729,"y":118,"g":"k"},{"x":737,"y":100,"g":"k"},{"x":745,"y":95,"g":"k"},{"x":753,"y":115,"g":"k"},{"x":761,"y":95,"g":"k"},{"x":769,"y":110,"g":"k"},{"x":777,"y":120,"g":"k"},{"x":785,"y":100,"g":"k"},{"x":793,"y":115,"g":"k"},{"x":801,"y":95,"g":"k"},{"x":815,"y":105,"g":"k"},{"x":830,"y":110,"g":"k"},{"x":845,"y":70,"g":"k"},{"x":860,"y":105,"g":"k"},{"x":876,"y":95,"g":"k"},{"x":895,"y":90,"g":"k"},{"x":912,"y":60,"g":"k"},{"x":938,"y":100,"g":"k"}
]
},
"layer": [
{"data": {"name": "curves"},
 "mark": {"type": "line", "stroke": "black", "strokeDash": [5, 4], "strokeWidth": 1.2},
 "encoding": {
  "x": {"field": "x", "type": "quantitative", "scale": {"domain": [500, 950], "nice": false, "zero": false},
   "axis": {"orient": "bottom", "title": null, "values": [500,550,600,650,700,750,800,850,900,950], "format": "d",
    "tickSize": -24, "labelPadding": 34, "labelFont": "Liberation Sans", "labelFontSize": 37, "labelFontWeight": "bold", "labelColor": "black",
    "labelFlush": false, "labelOverlap": false, "labelBound": false,
    "tickColor": "black", "tickWidth": 1.5, "domainColor": "black", "domainWidth": 2, "grid": false}},
  "y": {"field": "y", "type": "quantitative", "scale": {"domain": [0, 6000], "nice": false, "zero": false},
   "axis": {"orient": "left", "title": null, "values": [0,1000,2000,3000,4000,5000,6000], "format": "d",
    "tickSize": -26, "labelPadding": 37, "labelFont": "Liberation Sans", "labelFontSize": 37, "labelFontWeight": "bold", "labelColor": "black",
    "labelFlush": false, "labelOverlap": false, "labelBound": false,
    "tickColor": "black", "tickWidth": 1.5, "domainColor": "black", "domainWidth": 2, "grid": false}},
  "detail": {"field": "L", "type": "nominal"}
 }},
{"data": {"name": "pts"},
 "mark": {"type": "square", "size": 22, "filled": true, "opacity": 1},
 "encoding": {
  "x": {"field": "x", "type": "quantitative", "scale": {"domain": [500, 950], "nice": false, "zero": false},
   "axis": {"orient": "bottom", "title": null, "values": [510,520,530,540,560,570,580,590,610,620,630,640,660,670,680,690,710,720,730,740,760,770,780,790,810,820,830,840,860,870,880,890,910,920,930,940],
    "labels": false, "domain": false, "tickSize": -12, "tickColor": "black", "tickWidth": 1.5, "grid": false}},
  "y": {"field": "y", "type": "quantitative", "scale": {"domain": [0, 6000], "nice": false, "zero": false},
   "axis": {"orient": "left", "title": null, "values": [200,400,600,800,1200,1400,1600,1800,2200,2400,2600,2800,3200,3400,3600,3800,4200,4400,4600,4800,5200,5400,5600,5800],
    "labels": false, "domain": false, "tickSize": -13, "tickColor": "black", "tickWidth": 1.5, "grid": false}},
  "color": {"field": "g", "type": "nominal", "legend": null,
   "scale": {"domain": ["r","m","g","G","c","b","s","y","k"], "range": ["#ff0000","#ff00ff","#5fd35f","#00f000","#00ffff","#0000ff","#6060e0","#ffff00","#000000"]}}
 }},
{"data": {"values": [{}]},
 "mark": {"type": "text", "text": "14 TeV", "font": "Liberation Serif", "fontSize": 45, "align": "left", "baseline": "alphabetic", "color": "black"},
 "encoding": {"x": {"datum": 576.9, "type": "quantitative", "axis": null}, "y": {"datum": 4138, "type": "quantitative", "axis": null}}},
{"data": {"values": [{}]},
 "mark": {"type": "text", "text": "10 TeV", "font": "Liberation Serif", "fontSize": 45, "align": "left", "baseline": "alphabetic", "color": "black"},
 "encoding": {"x": {"datum": 564.5, "type": "quantitative", "axis": null}, "y": {"datum": 1353, "type": "quantitative", "axis": null}}},
{"data": {"values": [{}]},
 "mark": {"type": "text", "text": "7 TeV", "font": "Liberation Serif", "fontSize": 45, "align": "left", "baseline": "alphabetic", "color": "black"},
 "encoding": {"x": {"datum": 526.7, "type": "quantitative", "axis": null}, "y": {"datum": 514, "type": "quantitative", "axis": null}}},
{"data": {"values": [{}]},
 "mark": {"type": "text", "text": "L≤200 pb⁻¹", "font": "Liberation Sans", "fontWeight": "bold", "fontSize": 49, "align": "center", "baseline": "middle", "angle": -53, "color": "black"},
 "encoding": {"x": {"datum": 754, "type": "quantitative", "axis": null}, "y": {"datum": 4380, "type": "quantitative", "axis": null}}},
{"data": {"values": [{}]},
 "mark": {"type": "text", "text": "L ≤ 800 pb⁻¹", "font": "Liberation Sans", "fontWeight": "bold", "fontSize": 48, "align": "center", "baseline": "middle", "angle": -27, "color": "black"},
 "encoding": {"x": {"datum": 862, "type": "quantitative", "axis": null}, "y": {"datum": 1930, "type": "quantitative", "axis": null}}},
{"data": {"values": [{}]},
 "mark": {"type": "text", "text": "Effective σ", "font": "DejaVu Sans", "fontWeight": "bold", "fontSize": 58, "align": "left", "baseline": "alphabetic", "angle": 270, "color": "black"},
 "encoding": {"x": {"datum": 442.5, "type": "quantitative", "axis": null}, "y": {"datum": 1753, "type": "quantitative", "axis": null}}},
{"data": {"values": [{}]},
 "mark": {"type": "text", "text": "SUSY", "font": "DejaVu Sans", "fontWeight": "bold", "fontSize": 32, "align": "left", "baseline": "alphabetic", "angle": 270, "color": "black"},
 "encoding": {"x": {"datum": 450.4, "type": "quantitative", "axis": null}, "y": {"datum": 4284, "type": "quantitative", "axis": null}}},
{"data": {"values": [{}]},
 "mark": {"type": "text", "text": "(fb)", "font": "DejaVu Sans", "fontWeight": "bold", "fontSize": 54, "align": "right", "baseline": "alphabetic", "angle": 270, "color": "black"},
 "encoding": {"x": {"datum": 442.5, "type": "quantitative", "axis": null}, "y": {"datum": 5993, "type": "quantitative", "axis": null}}},
{"data": {"values": [{}]},
 "mark": {"type": "text", "text": "(GeV)", "font": "Liberation Sans", "fontWeight": "bold", "fontSize": 50, "align": "right", "baseline": "alphabetic", "color": "black"},
 "encoding": {"x": {"datum": 946.8, "type": "quantitative", "axis": null}, "y": {"datum": -698, "type": "quantitative", "axis": null}}},
{"data": {"values": [{}]},
 "mark": {"type": "text", "text": "M", "font": "Liberation Sans", "fontWeight": "bold", "fontSize": 52, "align": "right", "baseline": "alphabetic", "color": "black"},
 "encoding": {"x": {"datum": 859.3, "type": "quantitative", "axis": null}, "y": {"datum": -698, "type": "quantitative", "axis": null}}},
{"data": {"values": [{}]},
 "mark": {"type": "text", "text": "g̃", "font": "Liberation Sans", "fontWeight": "bold", "fontSize": 32, "align": "center", "baseline": "alphabetic", "color": "black"},
 "encoding": {"x": {"datum": 866.7, "type": "quantitative", "axis": null}, "y": {"datum": -771, "type": "quantitative", "axis": null}}}
]
}
